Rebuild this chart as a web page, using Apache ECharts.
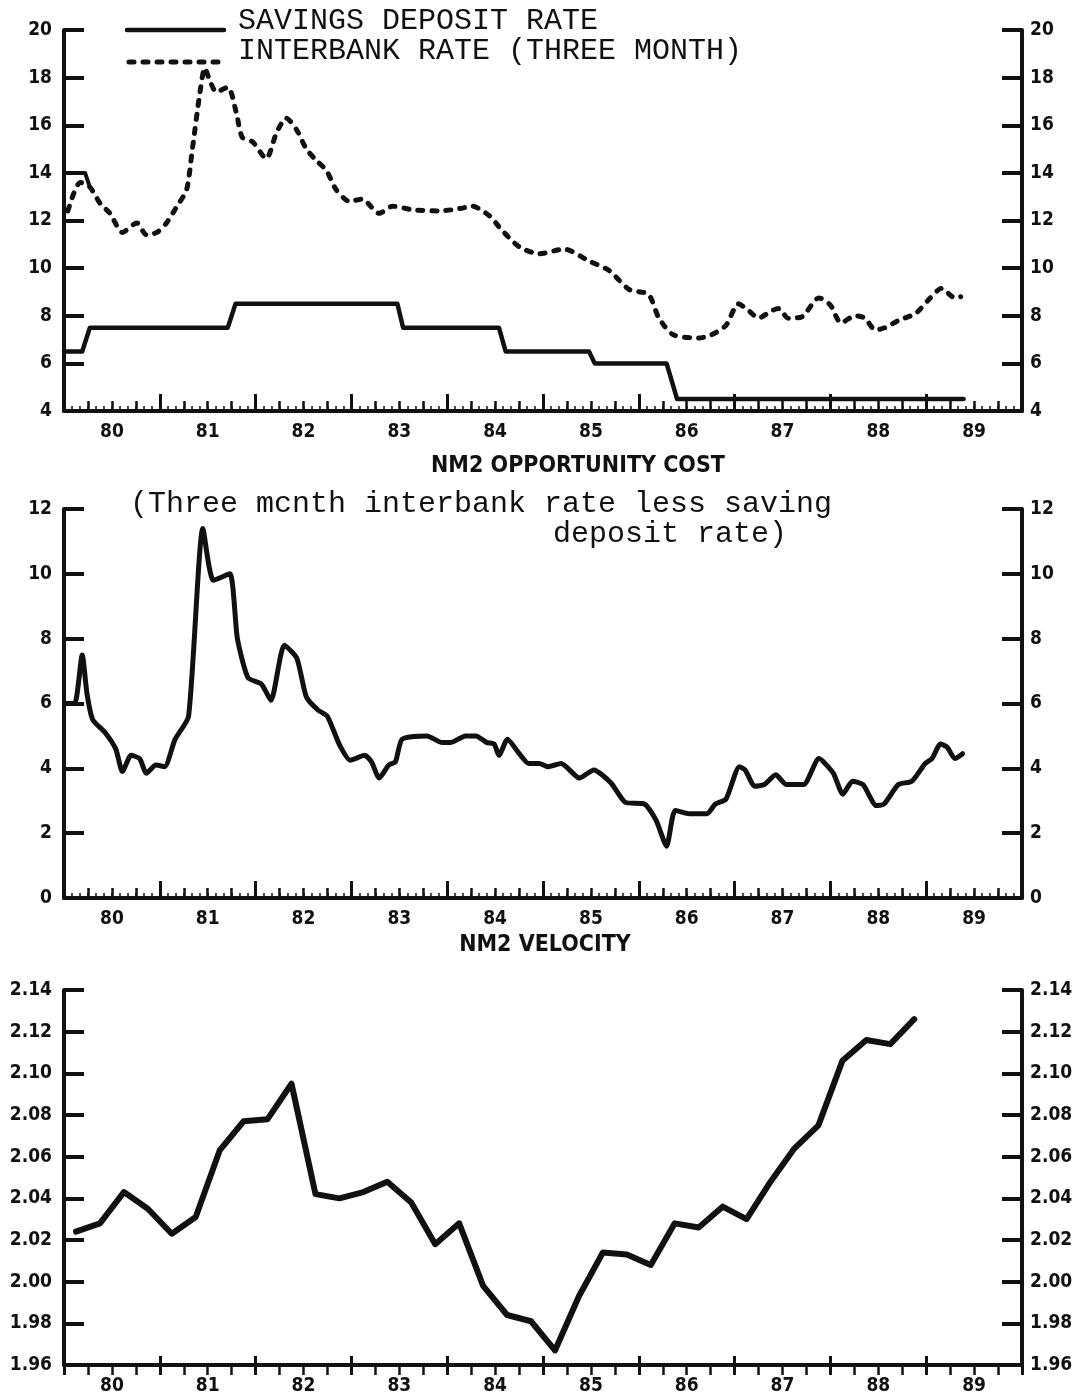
<!DOCTYPE html>
<html><head><meta charset="utf-8">
<script src="https://cdn.jsdelivr.net/npm/echarts@6/dist/echarts.min.js"></script>
<style>html,body{margin:0;padding:0;background:#fff}#c{width:1087px;height:1396px}</style>
</head><body><div id="c"></div>
<script>
// ---- data (decimal years) ----
const yearLabels = ['80','81','82','83','84','85','86','87','88','89'];
const legendNames = ['SAVINGS DEPOSIT RATE', 'INTERBANK RATE (THREE MONTH)'];

const savingsYears = [1980.0, 1980.19, 1980.27, 1981.71, 1981.79, 1983.48, 1983.54, 1984.54, 1984.61, 1985.48, 1985.54, 1986.29, 1986.40, 1989.39];
const savingsRates = [6.5, 6.5, 7.5, 7.5, 8.5, 8.5, 7.5, 7.5, 6.5, 6.5, 6.0, 6.0, 4.5, 4.5];

const interbankYears = [1980.04,1980.17,1980.27,1980.38,1980.48,1980.61,1980.76,1980.86,1980.97,1981.07,1981.18,1981.28,1981.34,1981.42,1981.47,1981.52,1981.59,1981.71,1981.80,1981.86,1981.97,1982.11,1982.22,1982.32,1982.43,1982.53,1982.64,1982.74,1982.84,1982.98,1983.11,1983.29,1983.43,1983.64,1983.92,1984.13,1984.26,1984.44,1984.57,1984.75,1984.96,1985.22,1985.48,1985.69,1985.90,1986.10,1986.21,1986.36,1986.63,1986.76,1986.91,1987.04,1987.15,1987.25,1987.38,1987.46,1987.56,1987.70,1987.88,1988.00,1988.11,1988.26,1988.36,1988.47,1988.57,1988.71,1988.89,1989.02,1989.16,1989.30,1989.36];
const interbankRates = [12.4,13.6,13.4,12.7,12.3,11.5,11.9,11.4,11.5,11.9,12.6,13.3,15.0,17.4,18.4,17.9,17.4,17.6,16.5,15.5,15.3,14.6,15.7,16.3,15.8,15.0,14.5,14.1,13.3,12.8,12.9,12.3,12.6,12.45,12.4,12.5,12.6,12.2,11.6,10.9,10.6,10.8,10.3,9.9,9.1,8.9,7.9,7.2,7.07,7.2,7.6,8.5,8.2,7.9,8.2,8.3,7.9,7.95,8.75,8.45,7.7,8.0,7.9,7.4,7.5,7.8,8.1,8.65,9.15,8.75,8.8];
// short solid stub at the start of the upper panel
const stubYears = [1980.0, 1980.22, 1980.27];
const stubRates = [14.0, 14.0, 13.4];

const oppYears = [1980.01,1980.11,1980.19,1980.24,1980.30,1980.43,1980.54,1980.61,1980.70,1980.79,1980.86,1980.96,1981.05,1981.16,1981.30,1981.45,1981.56,1981.73,1981.81,1981.92,1982.06,1982.16,1982.30,1982.43,1982.53,1982.65,1982.75,1982.88,1982.99,1983.14,1983.21,1983.29,1983.39,1983.46,1983.53,1983.79,1983.94,1984.04,1984.19,1984.30,1984.41,1984.49,1984.54,1984.63,1984.74,1984.85,1984.96,1985.05,1985.19,1985.38,1985.53,1985.71,1985.86,1986.06,1986.18,1986.29,1986.38,1986.53,1986.71,1986.80,1986.91,1987.05,1987.11,1987.21,1987.31,1987.43,1987.54,1987.72,1987.88,1988.03,1988.13,1988.23,1988.34,1988.48,1988.56,1988.71,1988.85,1988.99,1989.06,1989.15,1989.22,1989.30,1989.38];
const oppValues = [6.0,6.0,7.5,6.3,5.5,5.1,4.6,3.9,4.4,4.3,3.85,4.1,4.05,4.9,5.6,11.4,9.8,10.0,8.0,6.8,6.6,6.1,7.8,7.4,6.2,5.8,5.6,4.7,4.25,4.4,4.2,3.7,4.1,4.2,4.9,5.0,4.8,4.8,5.0,5.0,4.8,4.75,4.4,4.9,4.5,4.15,4.15,4.05,4.15,3.7,3.95,3.55,2.95,2.9,2.4,1.6,2.7,2.6,2.6,2.9,3.05,4.05,3.95,3.45,3.5,3.8,3.5,3.5,4.3,3.85,3.2,3.6,3.5,2.85,2.9,3.5,3.6,4.15,4.3,4.75,4.65,4.3,4.45];

const velYears = [1980.125,1980.375,1980.625,1980.875,1981.125,1981.375,1981.625,1981.875,1982.125,1982.375,1982.625,1982.875,1983.125,1983.375,1983.625,1983.875,1984.125,1984.375,1984.625,1984.875,1985.125,1985.375,1985.625,1985.875,1986.125,1986.375,1986.625,1986.875,1987.125,1987.375,1987.625,1987.875,1988.125,1988.375,1988.625,1988.875];
const velValues = [2.024,2.028,2.043,2.035,2.023,2.031,2.063,2.077,2.078,2.095,2.042,2.040,2.043,2.048,2.038,2.018,2.028,1.998,1.984,1.981,1.967,1.993,2.014,2.013,2.008,2.028,2.026,2.036,2.030,2.048,2.064,2.075,2.106,2.116,2.114,2.126];

const zip = (xs, ys) => xs.map((x, i) => [x, ys[i]]);

// ---- layout ----
const INK = '#111';
const numFont = '"DejaVu Sans Condensed","Liberation Sans Narrow","Roboto Condensed","DejaVu Sans",sans-serif';
const mono = '"Liberation Mono","DejaVu Sans Mono",monospace';
const LEFT = 64, WIDTH = 958;

const panels = [
  {top: 30,  height: 381, min: 4,    max: 20,   interval: 2,    monthly: true,  yq: 10, yy: 17, fmt: v => String(Math.round(v))},
  {top: 509, height: 389, min: 0,    max: 12,   interval: 2,    monthly: true,  yq: 10, yy: 17, fmt: v => String(Math.round(v))},
  {top: 990, height: 385, min: 1.96, max: 2.14, interval: 0.02, monthly: false, yq: 11, yy: 19, fmt: v => v.toFixed(2)}
];

const grids = [], xAxes = [], yAxes = [];
const mainX = [], mainY = [];
const labelStyle = {color: INK, fontFamily: numFont, fontWeight: 'bold', fontSize: 19};

panels.forEach(p => {
  const rect = {left: LEFT, width: WIDTH, top: p.top, height: p.height};
  grids.push(Object.assign({}, rect));
  let gi = grids.length - 1;
  mainX.push(xAxes.length);
  xAxes.push({
    gridIndex: gi, type: 'value', min: 1980, max: 1990, interval: 0.5,
    axisLine: {show: true, onZero: false, lineStyle: {color: INK, width: 4}},
    axisTick: {show: false}, splitLine: {show: false},
    axisLabel: Object.assign({
      margin: 12, showMinLabel: true, showMaxLabel: true,
      formatter: v => {
        const f = v - Math.floor(v);
        if (Math.abs(f - 0.5) < 1e-6) return yearLabels[Math.floor(v) - 1980] || '';
        return '';
      }
    }, labelStyle)
  });
  mainY.push(yAxes.length);
  ['left', 'right'].forEach(pos => {
    yAxes.push({
      gridIndex: gi, type: 'value', position: pos, min: p.min, max: p.max, interval: p.interval,
      axisLine: {show: true, onZero: false, lineStyle: {color: INK, width: 4}},
      axisTick: {show: true, inside: true, length: 20, lineStyle: {color: INK, width: 4}},
      splitLine: {show: false},
      axisLabel: Object.assign({margin: pos === 'left' ? 12 : 8, formatter: p.fmt}, labelStyle)
    });
  });
  grids.push(Object.assign({}, rect));
  gi = grids.length - 1;
  xAxes.push({
    gridIndex: gi, type: 'value', min: 1980, max: 1990, interval: 1,
    axisLine: {show: false}, axisLabel: {show: false}, splitLine: {show: false},
    axisTick: {show: true, inside: true, length: p.yy, lineStyle: {color: INK, width: 3}},
    minorTick: {show: true, splitNumber: 4, length: p.yq, lineStyle: {color: INK, width: 2.5}},
    minorSplitLine: {show: false}
  });
  yAxes.push({gridIndex: gi, show: false, min: 0, max: 1});
  if (p.monthly) {
    grids.push(Object.assign({}, rect));
    gi = grids.length - 1;
    xAxes.push({
      gridIndex: gi, type: 'value', min: 0, max: 120, interval: 1,
      axisLine: {show: false}, axisLabel: {show: false}, splitLine: {show: false},
      axisTick: {show: true, inside: true, length: 5, lineStyle: {color: INK, width: 1.5}}
    });
    yAxes.push({gridIndex: gi, show: false, min: 0, max: 1});
  }
});

const solid = w => ({color: INK, width: w, cap: 'round', join: 'round'});
const dashed = {color: INK, width: 5, type: [5, 9], cap: 'round', join: 'round'};

const series = [
  {name: legendNames[0], type: 'line', xAxisIndex: mainX[0], yAxisIndex: mainY[0],
   data: zip(savingsYears, savingsRates), symbol: 'none', lineStyle: solid(4.5), z: 5},
  {name: legendNames[1], type: 'line', xAxisIndex: mainX[0], yAxisIndex: mainY[0],
   data: zip(interbankYears, interbankRates), symbol: 'none', smooth: 0.25, lineStyle: dashed, z: 5},
  {name: 'stub', type: 'line', xAxisIndex: mainX[0], yAxisIndex: mainY[0],
   data: zip(stubYears, stubRates), symbol: 'none', lineStyle: solid(4), z: 5},
  {name: 'NM2 OPPORTUNITY COST', type: 'line', xAxisIndex: mainX[1], yAxisIndex: mainY[1],
   data: zip(oppYears, oppValues), symbol: 'none', smooth: 0.2, lineStyle: solid(5), z: 5},
  {name: 'NM2 VELOCITY', type: 'line', xAxisIndex: mainX[2], yAxisIndex: mainY[2],
   data: zip(velYears, velValues), symbol: 'none', lineStyle: solid(6), z: 5}
];

const txt = (text, x, y, font, align) => ({
  type: 'text', x: x, y: y, z: 10,
  style: {text: text, font: font, fill: INK, textAlign: align, align: align, textVerticalAlign: 'middle', verticalAlign: 'middle'}
});
const legLine = (x1, x2, y, style) => ({
  type: 'line', z: 10, shape: {x1: x1, y1: y, x2: x2, y2: y},
  style: {stroke: INK, lineWidth: style.width, lineCap: 'round', lineDash: Array.isArray(style.type) ? style.type : null}
});

const option = {
  backgroundColor: '#fff',
  animation: false,
  grid: grids, xAxis: xAxes, yAxis: yAxes, series: series,
  graphic: [
    legLine(127, 224, 30, {width: 4.5}),
    txt(legendNames[0], 238, 21, '30px ' + mono, 'left'),
    legLine(129, 224, 62, dashed),
    txt(legendNames[1], 238, 51, '30px ' + mono, 'left'),
    txt('NM2 OPPORTUNITY COST', 578, 466, 'bold 23px ' + numFont, 'center'),
    txt('(Three mcnth interbank rate less saving', 130, 504, '30px ' + mono, 'left'),
    txt('deposit rate)', 553, 534, '30px ' + mono, 'left'),
    txt('NM2 VELOCITY', 545, 945, 'bold 23px ' + numFont, 'center')
  ]
};

const chart = echarts.init(document.getElementById('c'), null, {renderer: 'canvas'});
chart.setOption(option);
</script>
</body></html>
